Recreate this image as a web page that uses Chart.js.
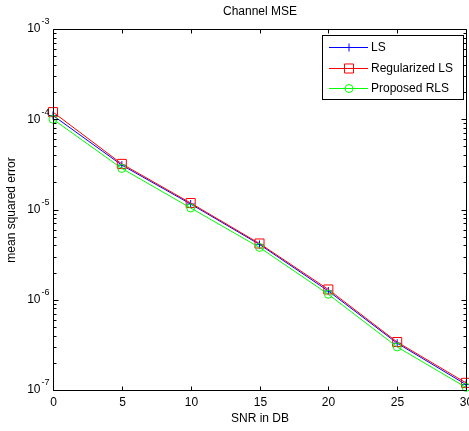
<!DOCTYPE html>
<html>
<head>
<meta charset="utf-8">
<script src="https://cdn.jsdelivr.net/npm/chart.js@4/dist/chart.umd.min.js"></script>
<style>
  html, body { margin: 0; padding: 0; background: #fff; }
  #wrap { width: 469px; height: 431px; }
</style>
</head>
<body>
<div id="wrap"><canvas id="grafico" width="469" height="431"></canvas></div>
<script>
// dados
const snr = [0, 5, 10, 15, 20, 25, 30];
const mseLS = [1.1e-4, 3.1e-5, 1.15e-5, 4.1e-6, 1.25e-6, 3.3e-7, 1.15e-7];
const mseReg = [1.2e-4, 3.2e-5, 1.18e-5, 4.2e-6, 1.3e-6, 3.4e-7, 1.2e-7];
const mseProp = [1.0e-4, 2.85e-5, 1.04e-5, 3.8e-6, 1.15e-6, 3.0e-7, 1.07e-7];
const xTicks = [0, 5, 10, 15, 20, 25, 30];
const yDecades = [-7, -6, -5, -4, -3];
const nomes = ['LS', 'Regularized LS', 'Proposed RLS'];

const FONTE = '12px "Liberation Sans", Arial, sans-serif';

function pts(vals) {
  return snr.map((x, i) => ({ x: x, y: vals[i] }));
}

// eixos estilo matlab: caixa, ticks para dentro, rotulos 10^n, legenda
const estiloMatlab = {
  id: 'estiloMatlab',
  afterDatasetsDraw(chart) {
    const ctx = chart.ctx;
    const xs = chart.scales.x;
    const ys = chart.scales.y;
    const esq = Math.round(xs.getPixelForValue(0)) + 0.5;
    const dir = Math.round(xs.getPixelForValue(30)) + 0.5;
    const topo = Math.round(ys.getPixelForValue(1e-3)) + 0.5;
    const base = Math.round(ys.getPixelForValue(1e-7)) + 0.5;
    ctx.save();
    ctx.strokeStyle = '#000';
    ctx.lineWidth = 1;
    ctx.beginPath();
    ctx.moveTo(esq, topo); ctx.lineTo(dir, topo); ctx.lineTo(dir, base);
    ctx.lineTo(esq, base); ctx.closePath();
    ctx.stroke();

    // ticks x
    ctx.fillStyle = '#000';
    ctx.font = FONTE;
    ctx.textAlign = 'center';
    ctx.textBaseline = 'top';
    xTicks.forEach(v => {
      const px = Math.round(xs.getPixelForValue(v)) + 0.5;
      ctx.beginPath();
      ctx.moveTo(px, base); ctx.lineTo(px, base - 4);
      ctx.moveTo(px, topo); ctx.lineTo(px, topo + 4);
      ctx.stroke();
      ctx.fillText(String(v), px, base + 6);
    });

    // ticks y (log)
    yDecades.forEach(e => {
      for (let m = 1; m <= 9; m++) {
        if (e === -3 && m > 1) break;
        const py = Math.round(ys.getPixelForValue(m * Math.pow(10, e))) + 0.5;
        const len = m === 1 ? 5 : 3;
        ctx.beginPath();
        ctx.moveTo(esq, py); ctx.lineTo(esq + len, py);
        ctx.moveTo(dir, py); ctx.lineTo(dir - len, py);
        ctx.stroke();
      }
      const py = ys.getPixelForValue(Math.pow(10, e));
      ctx.textAlign = 'right';
      ctx.textBaseline = 'middle';
      ctx.font = FONTE;
      const expW = 8;
      ctx.fillText('10', esq - 5 - expW, py);
      ctx.font = '9px "Liberation Sans", Arial, sans-serif';
      ctx.textAlign = 'left';
      ctx.fillText(String(e), esq - 4 - expW, py - 7);
    });

    // titulos
    ctx.font = FONTE;
    ctx.textAlign = 'center';
    ctx.textBaseline = 'middle';
    ctx.fillText('Channel MSE', (esq + dir) / 2, 12);
    ctx.fillText('SNR in DB', (esq + dir) / 2, 419);
    ctx.save();
    ctx.translate(12, (topo + base) / 2);
    ctx.rotate(-Math.PI / 2);
    ctx.fillText('mean squared error', 0, 0);
    ctx.restore();

    // legenda
    const lx = 322.5, ly = 35.5, lw = 141, lh = 64;
    ctx.fillStyle = '#fff';
    ctx.fillRect(lx, ly, lw, lh);
    ctx.strokeRect(lx, ly, lw, lh);
    const linhas = [47, 68, 88];
    chart.data.datasets.forEach((ds, i) => {
      const y = linhas[i] + 0.5;
      ctx.strokeStyle = ds.borderColor;
      ctx.lineWidth = 1;
      ctx.beginPath();
      ctx.moveTo(329, y); ctx.lineTo(368, y);
      ctx.stroke();
      ctx.fillStyle = 'rgba(0,0,0,0)';
      Chart.helpers.drawPoint(ctx, {
        pointStyle: ds.pointStyle, radius: ds.pointRadius, rotation: 0, borderWidth: 1
      }, 349, y);
      ctx.fillStyle = '#000';
      ctx.font = FONTE;
      ctx.textAlign = 'left';
      ctx.textBaseline = 'middle';
      ctx.fillText(nomes[i], 371, y);
    });
    ctx.restore();
  }
};

const ctx = document.getElementById('grafico').getContext('2d');

const grafico = new Chart(ctx, {
  type: 'line',
  data: {
    datasets: [{
      label: nomes[0],
      data: pts(mseLS),
      borderColor: '#0000ff',
      borderWidth: 1,
      pointStyle: 'cross',
      pointRadius: 4,
      pointBorderColor: '#0000ff',
      pointBackgroundColor: 'transparent',
      pointBorderWidth: 1,
      order: 3,
      clip: false
    }, {
      label: nomes[1],
      data: pts(mseReg),
      borderColor: '#ff0000',
      borderWidth: 1,
      pointStyle: 'rect',
      pointRadius: 6.4,
      pointBorderColor: '#ff0000',
      pointBackgroundColor: 'transparent',
      pointBorderWidth: 1,
      order: 2,
      clip: false
    }, {
      label: nomes[2],
      data: pts(mseProp),
      borderColor: '#00ff00',
      borderWidth: 1,
      pointStyle: 'circle',
      pointRadius: 4,
      pointBorderColor: '#00ff00',
      pointBackgroundColor: 'transparent',
      pointBorderWidth: 1,
      order: 1,
      clip: false
    }]
  },
  options: {
    responsive: false,
    animation: false,
    layout: { autoPadding: false, padding: { left: 53, right: 3, top: 29, bottom: 41 } },
    plugins: {
      legend: { display: false },
      tooltip: { enabled: false },
      title: { display: false }
    },
    elements: { line: { tension: 0 } },
    scales: {
      x: { type: 'linear', min: 0, max: 30, display: false },
      y: { type: 'logarithmic', min: 1e-7, max: 1e-3, display: false }
    }
  },
  plugins: [estiloMatlab]
});
</script>
</body>
</html>
